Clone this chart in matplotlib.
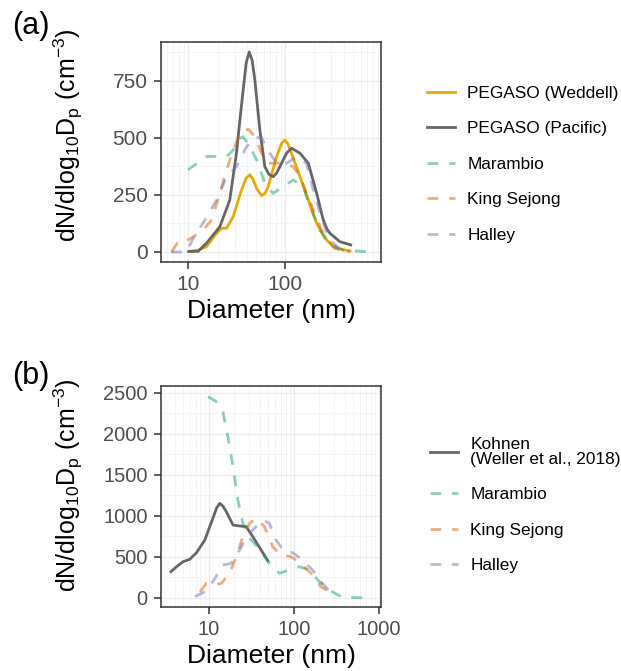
import numpy as np
import matplotlib
matplotlib.use('Agg')
import matplotlib.pyplot as plt
from matplotlib.ticker import LogLocator, MultipleLocator, FixedLocator, NullFormatter

plt.rcParams['font.family'] = ['Liberation Sans', 'DejaVu Sans']
plt.rcParams['mathtext.fontset'] = 'custom'
plt.rcParams['mathtext.rm'] = 'Liberation Sans'
plt.rcParams['mathtext.it'] = 'Liberation Sans:italic'

# (a) ship-borne PEGASO size distributions vs. Antarctic stations
weddell_d = [10.0, 12.5, 15.3, 19.5, 21.9, 24.7, 29.0, 35.3, 39.5, 43.1, 46.5, 50.5, 56.9, 62.0, 66.7,
             81.3, 92.0, 99.1, 106, 116, 142, 173, 211, 257, 326, 466]
weddell_n = [2, 8, 23, 82, 104, 104, 155, 272, 325, 338, 318, 279, 247, 258, 287,
             418, 478, 491, 475, 433, 330, 228, 126, 60, 16, 5]

pacific_d = [10.1, 12.6, 15.3, 21.1, 26.7, 31.3, 34.0, 36.7, 39.5, 42.4, 45.5, 48.5, 54.6, 61.5, 68.0,
             75.0, 81.0, 87.9, 103, 116, 142, 173, 211, 247, 270, 290, 367, 474]
pacific_n = [2, 3, 38, 111, 228, 433, 580, 710, 830, 877, 840, 754, 535, 374, 340,
             330, 345, 374, 433, 455, 433, 389, 257, 140, 100, 82, 45, 31]

marambio_a_d = [9.9, 11.2, 15.3, 20.0, 24.7, 29.0, 34.0, 36.7, 43.1, 52.5, 61.5, 75.0, 95.3,
                121, 153, 180, 228, 290, 398, 752]
marambio_a_n = [360, 377, 418, 420, 418, 447, 499, 505, 462, 389, 301, 257, 287,
                316, 287, 199, 96, 38, 8, 0]

sejong_a_d = [6.7, 7.8, 9.2, 11.2, 14.2, 17.3, 21.1, 24.7, 29.0, 34.0, 41.4, 48.5, 56.9, 66.7,
              78.7, 95.3, 121, 142, 166, 195, 237, 313, 466]
sejong_a_n = [0, 45, 45, 67, 96, 140, 257, 360, 447, 520, 539, 506, 433, 389,
              389, 390, 374, 330, 257, 184, 96, 23, 0]

halley_a_d = [6.6, 9.5, 11.2, 14.8, 19.5, 24.7, 31.3, 39.8, 48.5, 56.9, 69.3, 81.3, 103,
              131, 166, 195, 228, 278, 367, 466]
halley_a_n = [0, 0, 60, 140, 228, 330, 374, 462, 503, 500, 433, 389, 389,
              418, 389, 272, 170, 67, 5, 0]

# (b) Kohnen station vs. the other Antarctic stations
kohnen_d = [3.6, 4.2, 5.0, 6.0, 7.2, 9.0, 11.2, 12.4, 13.5, 14.7, 16.1, 19.3, 23.1, 27.6, 33.0, 41.3, 49.4]
kohnen_n = [321, 382, 443, 472, 553, 707, 972, 1100, 1154, 1120, 1053, 890, 878, 870, 748, 585, 455]

marambio_b_d = [9.8, 12.3, 14.7, 16.8, 19.3, 22.0, 25.2, 30.2, 39.4, 51.6, 67.6, 88.5, 116,
                152, 199, 260, 372, 800]
marambio_b_n = [2455, 2394, 2272, 1967, 1601, 1195, 911, 728, 600, 423, 301, 341, 382,
                341, 199, 98, 8, 0]

sejong_b_d = [7.9, 9.4, 11.7, 14.1, 17.6, 21.1, 25.2, 30.2, 36.1, 45.2, 56.5, 70.8, 92.7,
              121, 159, 208, 284, 312]
sejong_b_n = [77, 179, 159, 179, 301, 504, 748, 911, 972, 870, 626, 524, 504,
              423, 301, 138, 57, 30]

halley_b_d = [6.9, 9.0, 11.2, 14.7, 18.4, 23.1, 27.6, 34.5, 43.2, 51.6, 61.9, 77.4, 96.8,
              127, 166, 217, 298]
halley_b_n = [16, 77, 199, 402, 423, 585, 748, 850, 951, 911, 707, 565, 553,
              463, 341, 179, 20]

gold = '#E6AB02'
grey = '#666666'
teal = '#1B9E77'
orange = '#D95F02'
purple = '#7570B3'
lw = 2.0
dash = (0, (3.9, 3.9))

ylab = 'dN/dlog$_{\\mathregular{10}}$D$_{\\mathregular{p}}$ (cm$^{\\mathregular{-3}}$)'

fig = plt.figure(figsize=(6.21, 6.71), dpi=100)
ax1 = fig.add_axes([161 / 621, 1 - 262 / 671, 220 / 621, 220 / 671])
ax2 = fig.add_axes([161 / 621, 1 - 607 / 671, 220 / 621, 221 / 671])


def style_axis(ax, xticks, ystep, tick_size):
    ax.set_xscale('log')
    ax.xaxis.set_major_locator(FixedLocator(xticks))
    ax.xaxis.set_minor_locator(LogLocator(base=10, subs=np.arange(2, 10)))
    ax.xaxis.set_minor_formatter(NullFormatter())
    ax.set_xticklabels([str(t) for t in xticks])
    ax.yaxis.set_major_locator(MultipleLocator(ystep))
    ax.yaxis.set_minor_locator(MultipleLocator(ystep / 2))
    ax.grid(which='major', color='#EBEBEB', lw=0.9)
    ax.grid(which='minor', color='#F3F3F3', lw=0.6)
    ax.set_axisbelow(True)
    for s in ax.spines.values():
        s.set_color('#333333')
        s.set_linewidth(1.1)
    ax.tick_params(which='major', length=5.3, width=1.1, color='#333333',
                   labelsize=tick_size, labelcolor='#4D4D4D', pad=4.4)
    ax.tick_params(which='minor', length=0)
    ax.set_xlabel('Diameter (nm)', fontsize=19, labelpad=3)
    ax.set_ylabel(ylab, fontsize=18)


# panel (a)
ax1.plot(weddell_d, weddell_n, color=gold, lw=lw, label='PEGASO (Weddell)')
ax1.plot(pacific_d, pacific_n, color=grey, lw=lw, label='PEGASO (Pacific)')
ax1.plot(marambio_a_d, marambio_a_n, color=teal, alpha=0.5, lw=lw, ls=dash, label='Marambio')
ax1.plot(sejong_a_d, sejong_a_n, color=orange, alpha=0.5, lw=lw, ls=dash, label='King Sejong')
ax1.plot(halley_a_d, halley_a_n, color=purple, alpha=0.5, lw=lw, ls=dash, label='Halley')
style_axis(ax1, [10, 100], 250, 15)
ax1.set_xlim(5.2, 975)
ax1.set_ylim(-44, 921)
ax1.yaxis.set_label_coords(-0.345, 0.578)

leg1 = ax1.legend(loc='upper left', bbox_to_anchor=(427 / 621, 1 - 86 / 671),
                  bbox_transform=fig.transFigure, frameon=False, fontsize=12.4,
                  handlelength=1.63, handletextpad=0.7, labelspacing=1.18,
                  borderpad=0, borderaxespad=0)

# panel (b)
ax2.plot(kohnen_d, kohnen_n, color=grey, lw=lw, label='Kohnen\n(Weller et al., 2018)')
ax2.plot(marambio_b_d, marambio_b_n, color=teal, alpha=0.5, lw=lw, ls=dash, label='Marambio')
ax2.plot(sejong_b_d, sejong_b_n, color=orange, alpha=0.5, lw=lw, ls=dash, label='King Sejong')
ax2.plot(halley_b_d, halley_b_n, color=purple, alpha=0.5, lw=lw, ls=dash, label='Halley')
style_axis(ax2, [10, 100, 1000], 500, 14.5)
ax2.set_xlim(2.75, 1060)
ax2.set_ylim(-110, 2585)
ax2.yaxis.set_label_coords(-0.345, 0.55)

leg2 = ax2.legend(loc='upper left', bbox_to_anchor=(430 / 621, 1 - 437 / 671),
                  bbox_transform=fig.transFigure, frameon=False, fontsize=12.4,
                  handlelength=1.63, handletextpad=0.7, labelspacing=1.18,
                  borderpad=0, borderaxespad=0)
leg2.get_texts()[0].set_linespacing(1.0)

fig.text(12 / 621, 1 - 26 / 671, '(a)', fontsize=22, va='center', ha='left')
fig.text(12 / 621, 1 - 376 / 671, '(b)', fontsize=22, va='center', ha='left')

fig.savefig('out.png', dpi=100)
